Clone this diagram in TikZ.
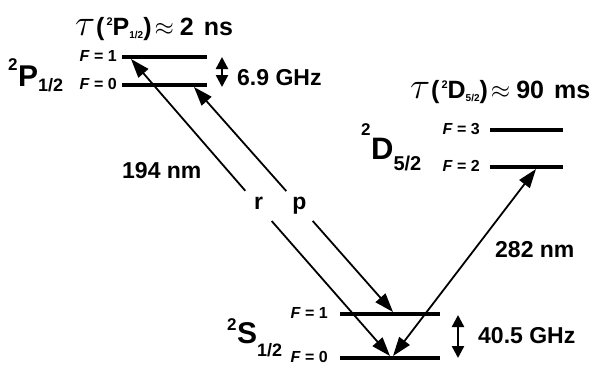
\documentclass[tikz,border=0pt]{standalone}
\usepackage{fontspec}
\setmainfont{Liberation Sans}
\usetikzlibrary{arrows.meta}
\newcommand\stlab[6]{\raisebox{#1}{\fontsize{17}{17}\selectfont #2}\kern0.5pt #3\raisebox{-#4}{\fontsize{#6}{#6}\selectfont #5}}
\newcommand\taulab[4]{\scalebox{1.5}{$\tau$}\kern1pt(\kern2pt\raisebox{10pt}{\fontsize{11}{11}\selectfont 2}#1\raisebox{-3pt}{\fontsize{10}{10}\selectfont #2})\kern3pt$\approx$\kern6pt #3\hspace{10pt}#4}
\begin{document}
\begin{tikzpicture}[x=1pt,y=-1pt,
  level/.style={line width=3.6pt},
  tipbig/.tip={Triangle[length=19pt,width=13pt]},
  tiphf/.tip={Triangle[length=12pt,width=12pt]},
  trans/.style={line width=1.8pt},
  hf/.style={line width=2.4pt,tiphf-tiphf},
  lab/.style={font=\fontsize{23}{23}\selectfont\bfseries,inner sep=0pt},
  taul/.style={font=\fontsize{25}{25}\selectfont\bfseries,inner sep=0pt,anchor=base west},
  flab/.style={font=\fontsize{16}{16}\selectfont\bfseries,inner sep=0pt,anchor=east},
  stl/.style={font=\fontsize{30}{30}\selectfont\bfseries,inner sep=0pt,anchor=base west},
  gaplab/.style={lab,text height=12pt,text depth=5pt,minimum width=26pt,minimum height=34pt}]
\useasboundingbox[fill=white] (0,0) rectangle (593,365);

% level coordinates
\coordinate (P1a) at (122,57);  \coordinate (P1b) at (207,57);
\coordinate (P0a) at (122,85);  \coordinate (P0b) at (207,85);
\coordinate (D3a) at (490,130); \coordinate (D3b) at (563,130);
\coordinate (D2a) at (490,167); \coordinate (D2b) at (563,167);
\coordinate (S1a) at (340,314); \coordinate (S1b) at (440,314);
\coordinate (S0a) at (340,358); \coordinate (S0b) at (440,358);
\draw[level] (P1a) -- (P1b);
\draw[level] (P0a) -- (P0b);
\draw[level] (D3a) -- (D3b);
\draw[level] (D2a) -- (D2b);
\draw[level] (S1a) -- (S1b);
\draw[level] (S0a) -- (S0b);

% F labels
\node[flab] (fP1) at (117,56) {\textit{F} = 1};
\node[flab] (fP0) at (117,84) {\textit{F} = 0};
\node[flab] (fD3) at (480,129) {\textit{F} = 3};
\node[flab] (fD2) at (480,166) {\textit{F} = 2};
\node[flab] (fS1) at (328,313) {\textit{F} = 1};
\node[flab] (fS0) at (328,357) {\textit{F} = 0};

% state labels
\node[stl] (stP) at (8,86) {\stlab{16pt}{2}{P}{5pt}{1/2}{18}};
\node[stl,font=\fontsize{31}{31}\selectfont\bfseries] (stD) at (361,159) {\stlab{24pt}{2}{D}{11pt}{5/2}{20}};
\node[stl] (stS) at (227,343) {\stlab{13pt}{2}{S}{13pt}{1/2}{18}};

% lifetimes
\node[taul] (tauP) at (75,35) {\taulab{P}{1/2}{2}{ns}};
\node[taul] (tauD) at (410,98) {\taulab{D}{5/2}{90}{ms}};

% hyperfine splittings
\coordinate (hPa) at (222,57); \coordinate (hPb) at (222,87);
\coordinate (hSa) at (458,315); \coordinate (hSb) at (458,358);
\draw[hf] (hPa) -- (hPb);
\draw[hf] (hSa) -- (hSb);
\node[lab,anchor=base west] (ghzP) at (237,85) {6.9 GHz};
\node[lab,anchor=base west] (ghzS) at (478,343) {40.5 GHz};

% transitions
\coordinate (rTop) at (131,59);  \coordinate (rBot) at (390,356);
\coordinate (pTop) at (194,87);  \coordinate (pBot) at (393,312);
\coordinate (qBot) at (393,356); \coordinate (qTop) at (536,169);
\node[gaplab] (rlab) at (258.5,206) {r};
\node[gaplab] (plab) at (299.5,206) {p};
\draw[trans,tipbig-] (rTop) -- (rlab);
\draw[trans,-tipbig] (rlab) -- (rBot);
\draw[trans,tipbig-] (pTop) -- (plab);
\draw[trans,-tipbig] (plab) -- (pBot);
\draw[trans,tipbig-tipbig] (qBot) -- (qTop);
\node[lab,anchor=base west] (nm194) at (122,178) {194 nm};
\node[lab,anchor=base west] (nm282) at (495,257) {282 nm};
\end{tikzpicture}
\end{document}
